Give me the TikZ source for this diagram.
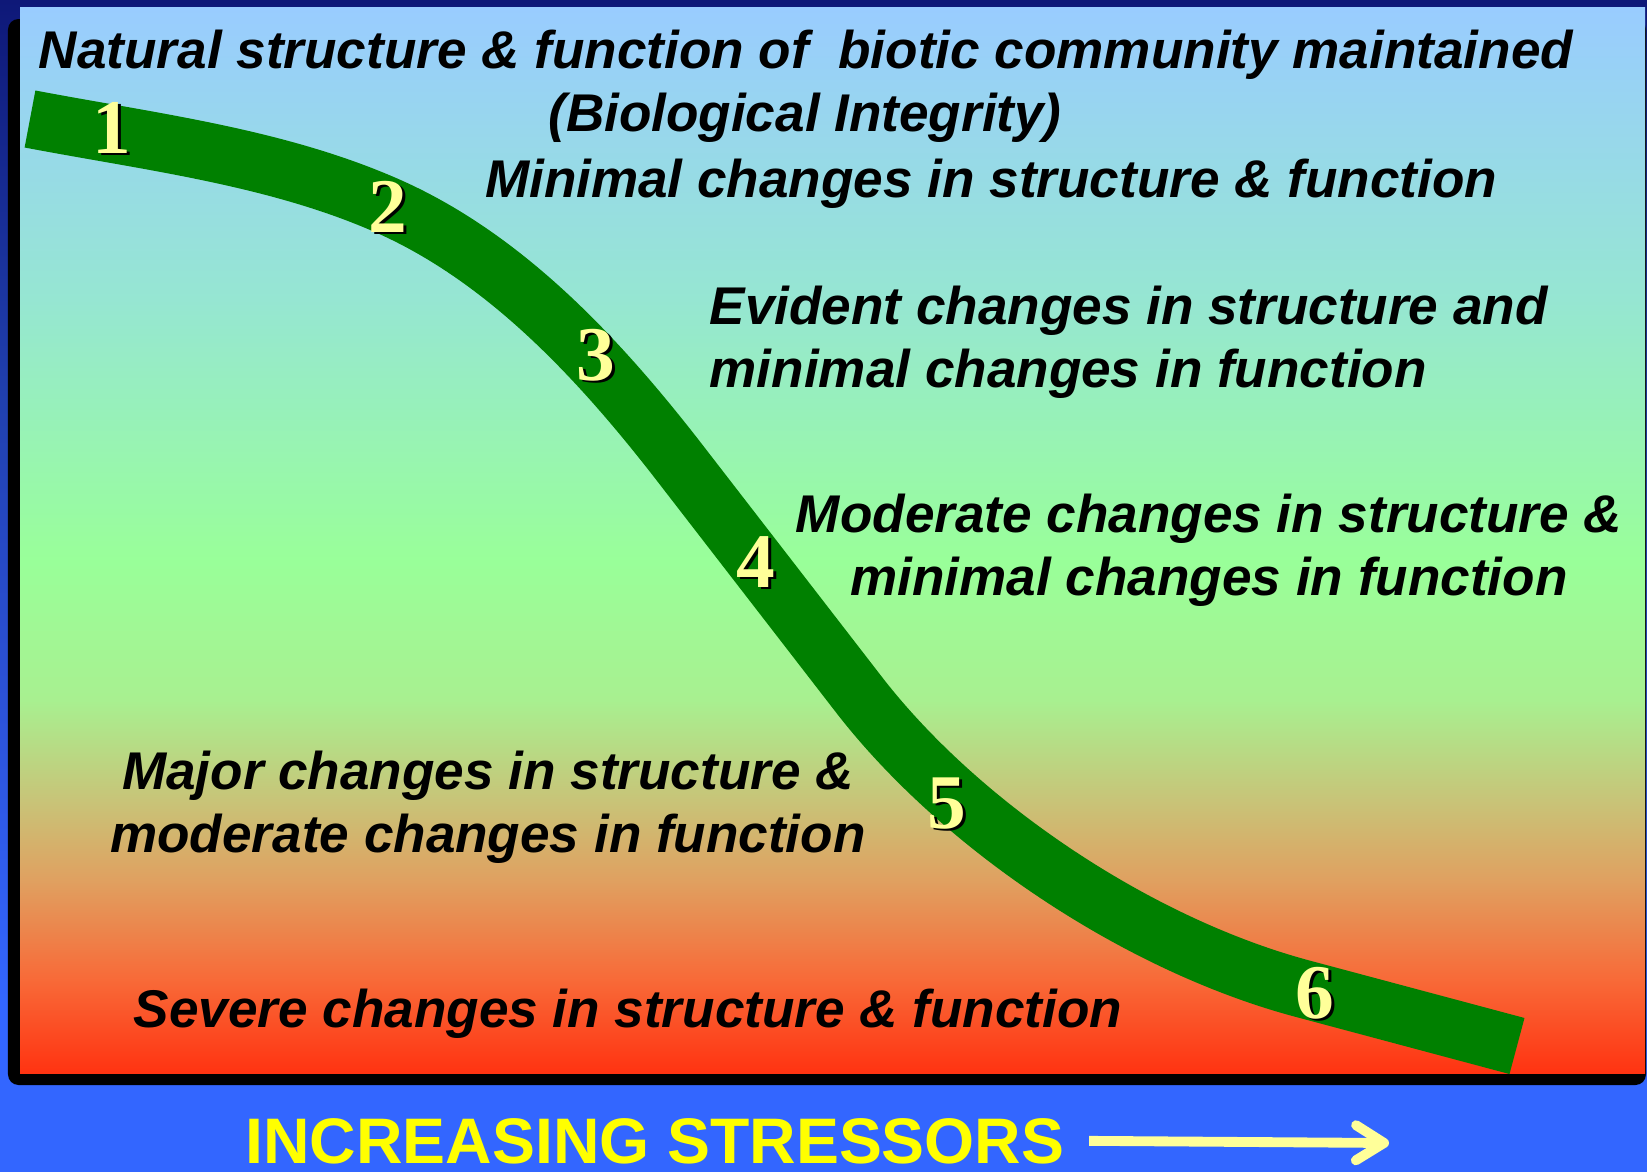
\documentclass[tikz,border=0pt]{standalone}
\usepackage{fontspec}
\setmainfont{Liberation Sans}
\newfontfamily\digitfont{Liberation Serif}
\usetikzlibrary{arrows.meta, positioning}
\definecolor{navytop}{HTML}{0E1878}
\definecolor{navymid}{HTML}{2040B0}
\definecolor{navylow}{HTML}{2C52D8}
\definecolor{stressblue}{HTML}{3366FF}
\definecolor{skytop}{HTML}{99CCFF}
\definecolor{skyaqua}{HTML}{96E6D2}
\definecolor{meadow}{HTML}{99FF99}
\definecolor{meadowlow}{HTML}{A8F090}
\definecolor{olive}{HTML}{C8C478}
\definecolor{sand}{HTML}{E0A060}
\definecolor{ember}{HTML}{F86A38}
\definecolor{fire}{HTML}{FF3311}
\definecolor{bandgreen}{HTML}{008000}
\definecolor{numyellow}{HTML}{FFFF99}
\definecolor{titleyellow}{HTML}{FFFF00}
% sfumature: sfondo della diapositiva e riquadro
\pgfdeclareverticalshading{slidebg}{100bp}{color(0bp)=(stressblue); color(25bp)=(stressblue);
  color(32.3bp)=(stressblue); color(45.1bp)=(navylow); color(57.9bp)=(navymid);
  color(75bp)=(navytop); color(100bp)=(navytop)}
\pgfdeclareverticalshading{panelfade}{100bp}{color(0bp)=(fire); color(25bp)=(fire);
  color(29.4bp)=(ember); color(34bp)=(sand); color(37.8bp)=(olive); color(42.5bp)=(meadowlow);
  color(49bp)=(meadow); color(61.3bp)=(skyaqua); color(75bp)=(skytop); color(100bp)=(skytop)}
\tikzset{
  % descrizione di uno stato
  phase/.style={inner sep=0pt, align=center, text=black,
    font=\bfseries\itshape\fontsize{15.1pt}{17.9pt}\selectfont},
  % numero dello stadio lungo la curva
  stagenum/.style={inner sep=0pt, text=numyellow,
    font=\digitfont\bfseries\fontsize{22pt}{22pt}\selectfont},
  stageshadow/.style={stagenum, text=black},
  % curva di risposta
  band/.style={line width=16.5pt, draw=bandgreen},
  % asse degli stressori
  stresslbl/.style={inner sep=0pt, text=titleyellow, font=\bfseries\fontsize{18.3pt}{18.3pt}\selectfont},
  stressarrow/.style={line width=2.8pt, draw=numyellow,
    -{Straight Barb[round, length=8pt, width=10pt]}},
}
\begin{document}
\begin{tikzpicture}[x=0.01cm, y=-0.01cm]
  \useasboundingbox (0,0) rectangle (1647,1172);
  \shade[shading=slidebg] (0,0) rectangle (1647,1172);
  \fill[stressblue] (0,1085) rectangle (1647,1172);
  \fill[black, rounded corners=3pt] (8,19) rectangle (1646,1085);
  \shade[shading=panelfade] (20,7) rectangle (1645,1073);

  % curva
  \draw[band] (30,119) .. controls (151,142) and (278,157) .. (390,207)
    .. controls (506,259) and (598,358) .. (676,458) -- (860,696)
    .. controls (962,827) and (1138,944) .. (1300,988) -- (1517,1046);
  \foreach \d/\x/\y in {1/112/128, 2/388/207, 3/596/355, 4/756/562, 5/947/804, 6/1315/993} {
    \node[stageshadow] at (\x+3,\y+2) {\d};
    \node[stagenum] (s\d) at (\x,\y) {\d};
  }

  % testi (per le righe doppie la base e' quella dell'ultima riga)
  \node[phase, anchor=base] (natural) at (806,68) {Natural structure \& function of \ biotic community maintained};
  \node[phase, anchor=base] (integrity) at (805,131) {(Biological Integrity)};
  \node[phase, anchor=base] (minimal) at (991,197) {Minimal changes in structure \& function};
  \node[phase, anchor=base west, align=left] (evident) at (709,387) {Evident changes in structure and\\minimal changes in function};
  \node[phase, anchor=base] (moderate) at (1209,595) {Moderate changes in structure \&\\minimal changes in function};
  \node[phase, anchor=base] (major) at (488,852) {Major changes in structure \&\\moderate changes in function};
  \node[phase, anchor=base] (severe) at (628,1027) {Severe changes in structure \& function};

  \node[stresslbl, anchor=base] (stress) at (655,1163) {INCREASING STRESSORS};
  \coordinate (stresstip) at (1389,1143);
  \draw[stressarrow] (stress.east) ++(24,0) -- (stresstip);
\end{tikzpicture}
\end{document}
